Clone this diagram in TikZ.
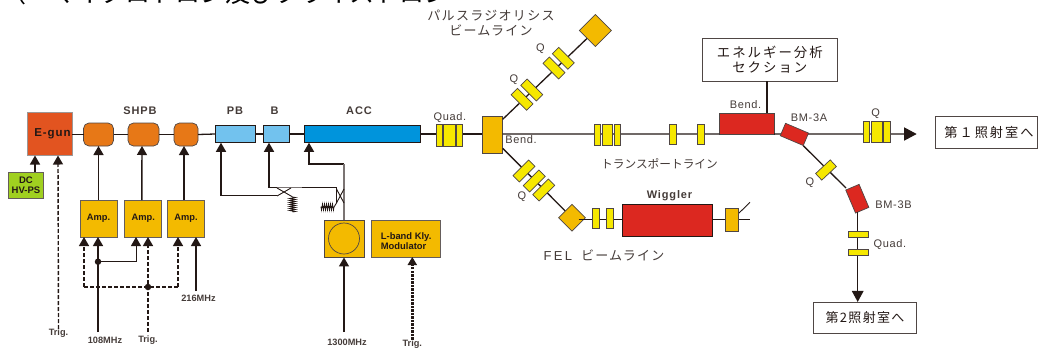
\documentclass[tikz,border=0pt]{standalone}
\usepackage{fontspec}
\setmainfont{Liberation Sans}
\newfontfamily\lsp[LetterSpace=6]{Liberation Sans}
\newfontfamily\lspb[LetterSpace=8,BoldFont={Liberation Sans Bold}]{Liberation Sans Bold}
\newfontfamily\cjk[LetterSpace=10]{Noto Sans CJK JP}
\newfontfamily\cjkw[LetterSpace=15]{Noto Sans CJK JP}
\newfontfamily\cjkt{Noto Sans CJK JP}
\usetikzlibrary{arrows.meta,decorations.pathmorphing}
\definecolor{linek}{HTML}{231815}
\definecolor{ora}{HTML}{F3BA00}
\definecolor{orb}{HTML}{E77817}
\definecolor{egun}{HTML}{E25420}
\definecolor{lb}{HTML}{72C2EE}
\definecolor{acc}{HTML}{0094DC}
\definecolor{yel}{HTML}{F6E800}
\definecolor{redm}{HTML}{DC2820}
\definecolor{grn}{HTML}{A0D020}
\tikzset{
 x=1pt,y=-1pt,
 beam/.style={draw=linek,line width=1.3pt},
 thinl/.style={draw=linek,line width=0.9pt},
 feed/.style={draw=linek,line width=1.4pt,-{Triangle[length=9pt,width=10pt]}},
 dfeed/.style={draw=linek,line width=1.4pt,dash pattern=on 4pt off 2pt,-{Triangle[length=9pt,width=10pt]}},
 dline/.style={draw=linek,line width=1.4pt,dash pattern=on 4pt off 2pt},
 block/.style={draw=linek!70,line width=0.9pt,inner sep=0pt,outer sep=0pt},
 ampbox/.style={block,fill=ora,minimum width=37pt,minimum height=37pt,font=\bfseries\fontsize{9.3}{10}\selectfont,text=linek},
 shp/.style={draw=linek!80,line width=0.7pt,fill=orb,rounded corners=5.5pt,minimum height=23pt,inner sep=0pt,outer sep=0pt},
 bun/.style={draw=linek,line width=0.9pt,fill=lb,minimum height=17.5pt,inner sep=0pt,outer sep=0pt},
 qd/.style={draw=linek!80,line width=0.7pt,fill=yel,inner sep=0pt,outer sep=0pt},
 mag/.style={draw=linek!80,line width=0.7pt,fill=ora,inner sep=0pt,outer sep=0pt},
 rmag/.style={draw=linek!80,line width=0.7pt,fill=redm,inner sep=0pt,outer sep=0pt},
 lab/.style={inner sep=0pt,font=\lspb\fontsize{11}{12}\selectfont,text=linek!85},
 slab/.style={inner sep=0pt,font=\bfseries\fontsize{9.2}{10}\selectfont,text=linek!85},
 reg/.style={inner sep=0pt,font=\lsp\fontsize{11}{12}\selectfont,text=linek!85},
 jp/.style={inner sep=0pt,align=center,font=\cjk\fontsize{13}{15}\selectfont,text=linek!85},
 room/.style={draw=linek!80,line width=0.8pt,fill=white,inner sep=0pt,align=center,text=linek},
 dot/.style={circle,fill=linek,inner sep=0pt,minimum size=6.5pt},
 coil/.style={draw=linek,line width=0.8pt,decorate,decoration={zigzag,segment length=2pt,amplitude=3pt}},
}
\begin{document}
\begin{tikzpicture}
\useasboundingbox (0,0) rectangle (1038,349);
\begin{scope}
\clip (0,0) rectangle (1038,349);
\node[inner sep=0pt,anchor=base west,font=\cjkt\fontsize{25}{25}\selectfont,text=black] (headline) at (1,2) {（　マイクロトロン及びクライストロン};
\end{scope}
% gun to accelerator
\node[draw=linek!45,line width=1pt,inner sep=0pt,outer sep=0pt,fill=egun,minimum width=45pt,minimum height=43pt] (egun) at (49.5,134) {};
\node[lab,font=\lspb\fontsize{11.5}{12}\selectfont,text=linek] (egunl) at (52.5,133.5) {E-gun};
\node[shp,minimum width=30pt] (s1) at (98.5,134.5) {};
\node[shp,minimum width=31pt] (s2) at (143.5,134.5) {};
\node[shp,minimum width=24pt] (s3) at (186,134.5) {};
\node[bun,minimum width=40pt] (pb) at (235,134) {};
\node[bun,minimum width=26pt] (bb) at (276,134) {};
\node[bun,fill=acc,minimum width=116pt] (accb) at (362,134) {};
\draw[beam] (egun.east |- s1.west) -- (s1.west);
\draw[beam] (s1) -- (s2);
\draw[beam] (s2) -- (s3);
\draw[beam] (s3.east) -- (pb.west);
\draw[beam] (pb) -- (bb);
\draw[beam] (bb) -- (accb);
\node[lab] (lshpb) at (140,111) {SHPB};
\node[lab] (lpb) at (235,111) {PB};
\node[lab] (lb) at (274.5,111) {B};
\node[lab] (lacc) at (359,111) {ACC};
% first bend and quadrupoles
\node[mag,line width=0.9pt,minimum width=20.5pt,minimum height=36.5pt] (bend) at (492.3,135) {};
\draw[beam] (accb.east) -- (bend.west |- accb.east);
\foreach \n/\x/\w in {qa/439.5/6.4,qb/449.7/12,qc/459.3/6}{\node[qd,minimum width=\w pt,minimum height=22pt] (\n) at (\x,135) {};}
\node[reg] (lq1) at (450,117.7) {Quad.};
\node[reg] (lbend) at (521,140) {Bend.};
% upper branch
\coordinate (bup) at (502.7,119.3);
\coordinate (ucen) at (595.3,30.5);
\draw[beam] (bup) -- (ucen);
\node[mag,rotate=45,minimum width=22.6pt,minimum height=22.6pt] (udia) at (ucen) {};
\foreach \n/\x/\y in {u1/522/99.3,u2/531.7/90,u3/554/68,u4/563.3/58.3}{\node[qd,rotate=-45,minimum width=22pt,minimum height=9pt] (\n) at (\x,\y) {};}
\node[reg] (lqa) at (514,80) {Q};
\node[reg] (lqb) at (540.5,49) {Q};
\node[jp] (lpulse) at (491,23) {パルスラジオリシス\\ビームライン};
% lower branch
\coordinate (bdn) at (502.7,148.3);
\coordinate (dcen) at (572,217.7);
\draw[beam] (bdn) -- (dcen);
\node[mag,rotate=45,minimum width=18.9pt,minimum height=18.9pt] (ddia) at (dcen) {};
\foreach \n/\x/\y in {d1/524/171,d2/534.3/181,d3/543.7/190}{\node[qd,rotate=45,minimum width=22pt,minimum height=9pt] (\n) at (\x,\y) {};}
\node[reg] (lqc) at (522,197) {Q};
\coordinate (felend) at (750,219.3);
\draw[beam] (ddia.east |- felend) -- (felend);
\node[qd,minimum width=6.6pt,minimum height=20pt] (d4) at (596,218.7) {};
\node[qd,minimum width=6.6pt,minimum height=20pt] (d5) at (609.7,218.7) {};
\node[draw=linek,line width=0.9pt,fill=redm,minimum width=90.4pt,minimum height=32.4pt,inner sep=0pt] (wig) at (667.5,220.5) {};
\node[lab] (lwig) at (669.5,196) {Wiggler};
\coordinate (felup) at (750,202.3);
\coordinate (felbase) at (737.7,214.3);
\draw[thinl] (felbase) -- (felup);
\node[mag,minimum width=13.3pt,minimum height=22.7pt] (d6) at (731.7,219.7) {};
\node[inner sep=0pt,font=\fontsize{13}{15}\selectfont,text=linek!85,anchor=base west] (lfel) at (543.3,260) {\lsp\addfontfeature{LetterSpace=18}FEL\hspace{9pt}\cjk ビームライン};
% transport line
\node[rmag,minimum width=54.7pt,minimum height=20.7pt] (b2) at (746.7,123.7) {};
\draw[beam] (bend.east |- accb.east) -- (b2.south west);
\foreach \n/\x/\w in {t1/597.5/6.4,t2/607.4/10.7,t3/617.3/6.7}{\node[qd,minimum width=\w pt,minimum height=21.7pt] (\n) at (\x,134.8) {};}
\node[qd,minimum width=6.7pt,minimum height=20pt] (t4) at (672.7,134) {};
\node[qd,minimum width=6.7pt,minimum height=20pt] (t5) at (700.7,134) {};
\node[inner sep=0pt,font=\cjkt\fontsize{11.7}{13}\selectfont,text=linek!85] (ltr) at (659.5,163.5) {トランスポートライン};
% energy section
\node[draw=linek!80,line width=0.8pt,fill=white,minimum width=135pt,minimum height=42.7pt,inner sep=0pt,align=center,font=\cjkw\fontsize{13.4}{15}\selectfont,text=linek] (energy) at (769.8,59.7) {エネルギー分析\\セクション};
\draw[beam] ([xshift=-2.8pt]energy.south) -- ([xshift=20.3pt]b2.north);
\node[reg] (lb2) at (745.5,105) {Bend.};
% BM-3A, BM-3B
\node[room,minimum width=102pt,minimum height=32.3pt,font=\cjkw\fontsize{13.2}{15}\selectfont] (r1) at (986,132.2) {\hspace{6pt}第１照射室へ};
\node[room,minimum width=103.4pt,minimum height=30.7pt,font=\cjk\fontsize{13}{15}\selectfont] (r2) at (865,317.7) {第2照射室へ};
\coordinate (headr) at (916.7,134);
\draw[beam,-{Triangle[length=12.5pt,width=13pt]}] (b2.south east) -- (headr);
\node[rmag,rotate=-23,minimum width=25pt,minimum height=13.5pt] (bm3a) at (794.4,134.4) {};
\node[rmag,rotate=23,minimum width=14.5pt,minimum height=25pt] (bm3b) at (857.3,198.7) {};
\coordinate (aout) at (803.3,145.7);
\coordinate (bin) at (846,188);
\draw[beam] (aout) -- (bin);
\node[reg] (lbm3a) at (809,117.3) {BM-3A};
\foreach \n/\x/\w in {qq1/866.3/6,qq2/877/11.4,qq3/886.7/6.7}{\node[qd,minimum width=\w pt,minimum height=21pt] (\n) at (\x,132.2) {};}
\node[reg] (lq3) at (875.7,114) {Q};
\node[qd,rotate=43,minimum width=20pt,minimum height=9pt] (qm) at (826,170) {};
\node[reg] (lq4) at (810,182.3) {Q};
\coordinate (bout) at (857.7,212);
\draw[beam,line width=1.5pt,-{Triangle[length=11pt,width=11.5pt]}] (bout) -- (bout |- r2.north);
\node[qd,minimum width=20.7pt,minimum height=5.6pt] (qv1) at (858.3,234.5) {};
\node[qd,minimum width=20.7pt,minimum height=5.8pt] (qv2) at (858.3,252.2) {};
\node[reg] (lbm3b) at (893.5,205) {BM-3B};
\node[reg] (lq5) at (890,244.3) {Quad.};
% DC and gun feeds
\node[draw=linek!70,line width=0.7pt,fill=grn,minimum width=35pt,minimum height=26pt,inner sep=0pt,align=center,font=\bfseries\fontsize{9.5}{10}\selectfont,text=linek] (dc) at (26,185) {DC\\HV-PS};
\draw[feed] ([xshift=9pt]dc.north) -- ([xshift=-14.5pt]egun.south);
\node[slab] (tg1) at (58.5,333.5) {Trig.};
\draw[dfeed] (tg1.north) -- ([xshift=8.5pt]egun.south);
% amplifiers
\node[ampbox] (a1) at (98.5,218.5) {Amp.};
\node[ampbox] (a2) at (143.3,218.5) {\raisebox{1pt}{Amp.}};
\node[ampbox] (a3) at (186,218.5) {Amp.};
\draw[feed] (a1.north) -- (s1.south);
\draw[feed] ([xshift=-1.5pt]a2.north) -- ([xshift=-1.5pt]s2.south);
\draw[feed] ([xshift=-2pt]a3.north) -- ([xshift=-2pt]s3.south);
\node[slab] (l108) at (105,340.7) {108MHz};
\node[slab] (tg2) at (148,340) {Trig.};
\node[slab] (l216) at (198.5,298.7) {216MHz};
\coordinate (b108) at (98,332);
\coordinate (b216) at (196,291);
\coordinate (btr) at (148,332);
\coordinate (j1) at (98,261.7);
\coordinate (j2) at (136,261.7);
\coordinate (d0) at (84,287);
\coordinate (d1end) at (178,287);
\draw[feed] (b108) -- (b108 |- a1.south);
\draw[thinl,line width=1pt,-{Triangle[length=9pt,width=10pt]}] (j1) -- (j2) -- (j2 |- a2.south);
\node[dot] (dot1) at (j1) {};
\draw[dfeed] (d0) -- (d0 |- a1.south);
\draw[dline] (d0) -- (d1end);
\draw[dfeed] (d1end) -- (d1end |- a3.south);
\draw[dfeed] (btr) -- (btr |- a2.south);
\node[dot] (dot2) at (148,287) {};
\draw[feed] (b216) -- (b216 |- a3.south);
% waveguides
\node[draw=linek!80,line width=0.9pt,fill=ora,minimum width=40pt,minimum height=37pt,inner sep=0pt] (kly) at (344,238.5) {};
\node[draw=linek!80,line width=0.7pt,circle,minimum size=31pt,inner sep=0pt] (klyc) at (344,238.5) {};
\node[block,fill=ora,minimum width=69.7pt,minimum height=37pt,inner sep=0pt] (mod) at (406,238.5) {};
\node[inner sep=0pt,align=left,anchor=west,font=\bfseries\fontsize{9.4}{10}\selectfont,text=linek] (modl) at (380.7,240.7) {L-band Kly.\\Modulator};
\coordinate (w1) at (221,195.5);
\coordinate (w1e) at (277,195.5);
\coordinate (w2) at (269,187.5);
\coordinate (w2a) at (277,187.5);
\coordinate (w2b) at (302,187.5);
\coordinate (w2c) at (336.7,187.5);
\coordinate (w2d) at (336.7,203);
\coordinate (w3) at (309,164);
\coordinate (w3c) at (344,164);
\draw[thinl,line width=1.2pt] (w1e) -- (w1);
\draw[feed] (w1) -- ([xshift=-14pt]pb.south);
\draw[feed] (w2) -- ([xshift=-7pt]bb.south);
\draw[feed,line width=1.2pt] (w3c) -- (w3) -- ([xshift=-53pt]accb.south);
\draw[draw=linek!60,line width=1.1pt] (w3c) -- (kly.north);
\draw[thinl,line width=1.2pt] (w2) -- (w2a);
\draw[draw=linek!60,line width=1.1pt] (w2a) -- (w2b);
\draw[thinl,line width=1.2pt] (w2b) -- (w2c) -- (w2d);
\coordinate (xa1) at (277,188);\coordinate (xa2) at (291,196);\coordinate (xa3) at (277,196);\coordinate (xa4) at (291,188);
\draw[thinl] (xa1) -- (xa2) (xa3) -- (xa4);
\coordinate (xb1) at (336.5,189);\coordinate (xb2) at (344,203);\coordinate (xb3) at (344,189);\coordinate (xb4) at (336.5,203);
\draw[thinl] (xb1) -- (xb2) (xb3) -- (xb4);
\coordinate (c1a) at (292.5,197);\coordinate (c1b) at (292.5,212);
\coordinate (c2a) at (334,207);\coordinate (c2b) at (320.7,207);
\draw[thinl] (xa2) -- (c1a);
\draw[thinl] (xb4) -- (c2a);
\draw[coil] (c1a) -- (c1b);
\draw[coil] (c2a) -- (c2b);
% klystron feeds
\node[slab] (l1300) at (347,342.7) {1300MHz};
\node[slab] (tg3) at (412.3,344) {Trig.};
\coordinate (k13) at (344,332);
\draw[feed] (k13) -- (kly.south);
\draw[draw=linek,line width=2.4pt,dash pattern=on 2.5pt off 1pt,-{Triangle[length=8pt,width=9pt]}] (tg3.north) -- (tg3.north |- mod.south);
\end{tikzpicture}
\end{document}
